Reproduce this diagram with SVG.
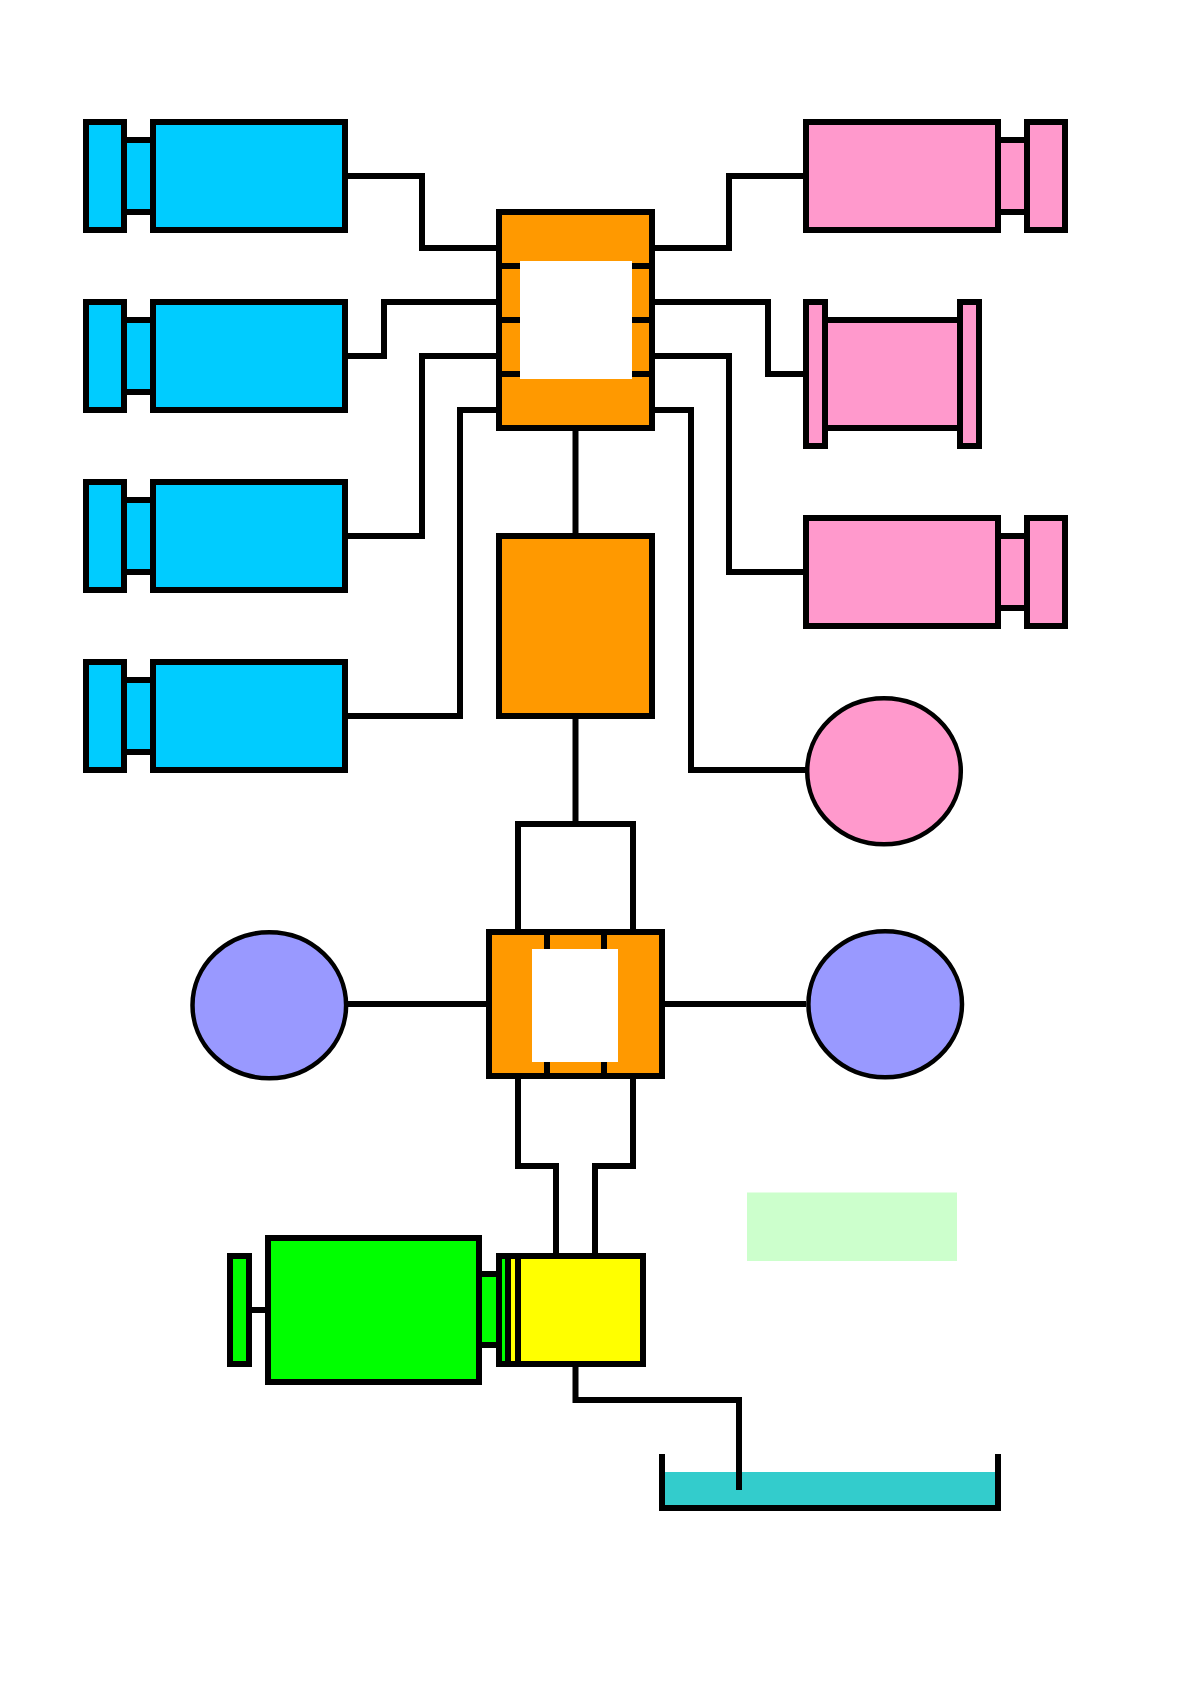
<svg xmlns="http://www.w3.org/2000/svg" width="1190" height="1684" viewBox="0 0 1190 1684">
<style>
.s{stroke:#000;stroke-width:6;stroke-linejoin:miter;stroke-linecap:butt}
.e{stroke:#000;stroke-width:4.500}
.c{fill:none;stroke:#000;stroke-width:6}
.blue{fill:#00CCFF}.pink{fill:#FF99CC}.orange{fill:#FF9900}.purple{fill:#9999FF}.green{fill:#00FF00}.yellow{fill:#FFFF00}
.w{fill:#FFF}
</style>
<defs>
<g id="blueUnit">
<rect class="s blue" x="124" y="140" width="29" height="72"/>
<rect class="s blue" x="86" y="122" width="38" height="108"/>
<rect class="s blue" x="153" y="122" width="192" height="108"/>
</g>
<g id="pinkUnit">
<rect class="s pink" x="998" y="140" width="29" height="72"/>
<rect class="s pink" x="1027" y="122" width="38" height="108"/>
<rect class="s pink" x="806" y="122" width="192" height="108"/>
</g>
</defs>
<rect width="1190" height="1684" fill="#FFF"/>
<g id="connectors">
<path class="c" d="M345 176H422V248H499"/>
<path class="c" d="M345 356H384V302H499"/>
<path class="c" d="M345 536H422V356H499"/>
<path class="c" d="M345 716H460V410H499"/>
<path class="c" d="M652 248H729V176H806"/>
<path class="c" d="M652 302H768V374H806"/>
<path class="c" d="M652 356H729V572H806"/>
<path class="c" d="M652 410H691V770H806"/>
<path class="c" d="M575.500 428V536"/>
<path class="c" d="M575.500 716V824"/>
<path class="c" d="M518 932V824H633V932"/>
<path class="c" d="M348 1004H489"/>
<path class="c" d="M662 1004H806"/>
<path class="c" d="M518 1076V1166H556V1256"/>
<path class="c" d="M633 1076V1166H595V1256"/>
<path class="c" d="M575.500 1364V1400H739V1490"/>
</g>
<g id="blue-1"><use href="#blueUnit"/></g>
<g id="blue-2"><use href="#blueUnit" y="180"/></g>
<g id="blue-3"><use href="#blueUnit" y="360"/></g>
<g id="blue-4"><use href="#blueUnit" y="540"/></g>
<g id="pink-1"><use href="#pinkUnit"/></g>
<g id="pink-spool">
<rect class="s pink" x="825" y="320" width="135" height="108"/>
<rect class="s pink" x="806" y="302" width="19" height="144"/>
<rect class="s pink" x="960" y="302" width="19" height="144"/>
</g>
<g id="pink-3"><use href="#pinkUnit" y="396"/></g>
<g id="pink-circle"><ellipse class="e pink" cx="884" cy="771.200" rx="76.800" ry="73"/></g>
<g id="manifold-top">
<rect class="s orange" x="499" y="212" width="153" height="216"/>
<path class="c" d="M499 266H652M499 320H652M499 374H652"/>
<rect class="w" x="520" y="261" width="112" height="118"/>
</g>
<g id="orange-middle"><rect class="s orange" x="499" y="536" width="153" height="180"/></g>
<g id="manifold-lower">
<rect class="s orange" x="489" y="932" width="173" height="144"/>
<path class="c" d="M547 932V1076M604 932V1076"/>
<rect class="w" x="532" y="949" width="86" height="113"/>
</g>
<g id="purple-left"><ellipse class="e purple" cx="269.300" cy="1005.300" rx="76.800" ry="73"/></g>
<g id="purple-right"><ellipse class="e purple" cx="885.200" cy="1004.200" rx="76.800" ry="73"/></g>
<g id="legend-box"><rect x="747" y="1192.500" width="210" height="68.500" fill="#CCFFCC"/></g>
<g id="green-unit">
<path class="c" d="M249 1310H268"/>
<rect class="s green" x="230" y="1256" width="19" height="108"/>
<rect class="s green" x="479" y="1274" width="20" height="71"/>
<rect class="s green" x="268" y="1238" width="211" height="144"/>
</g>
<g id="yellow-unit">
<rect class="s yellow" x="499" y="1256" width="144" height="108"/>
<rect class="green" x="502" y="1259" width="3" height="102"/>
<path class="c" d="M508 1256V1364M518 1256V1364"/>
</g>
<g id="tank">
<rect x="665" y="1472" width="330" height="33" fill="#33CCCC"/>
<path class="c" d="M662 1454V1508H998V1454"/>
<path class="c" d="M739 1440V1490"/>
</g>
</svg>
